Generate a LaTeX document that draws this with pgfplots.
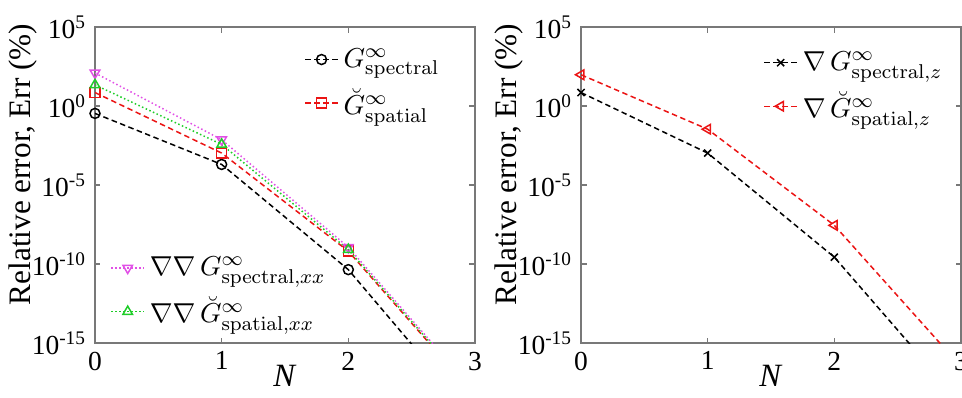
\documentclass[border=0pt]{standalone}
\usepackage[no-math]{fontspec}
\setmainfont{Liberation Serif}
\usepackage{pgfplots}
\pgfplotsset{compat=1.18}
\definecolor{mred}{RGB}{235,20,20}
\definecolor{mmag}{RGB}{225,80,230}
\definecolor{mgreen}{RGB}{30,205,40}
\definecolor{boxgray}{RGB}{120,120,120}
\begin{document}
\begin{tikzpicture}
% left panel, first legend
\begin{axis}[at={(0,0)}, anchor=south west,
    scale only axis, width=152pt, height=126.4pt, ymode=log,
    xmin=0, xmax=3, ymin=1e-15, ymax=1e5,
    xtick={0,1,2,3}, xticklabels={0,1,2,3},
    ytick={1e5,1,1e-5,1e-10,1e-15},
    yticklabels={10\textsuperscript{5},10\textsuperscript{0},10\textsuperscript{-5},10\textsuperscript{-10},10\textsuperscript{-15}},
    minor ytick={}, minor xtick={},
    tick align=inside, major tick length=2.2pt,
    every tick/.style={boxgray, line width=0.5pt},
    axis line style={boxgray, line width=0.6pt},
    xticklabel style={font=\fontsize{11}{13}\selectfont},
    yticklabel style={font=\fontsize{11}{13}\selectfont},
    xlabel={\textit{N}}, ylabel={Relative error, Err (\%)},
    xlabel style={font=\fontsize{13}{15}\selectfont, yshift=6.5pt, inner ysep=1pt},
    ylabel style={font=\fontsize{12.5}{14}\selectfont, at={(axis description cs:-0.19,0.565)}, anchor=center},
    legend cell align=left,
    legend style={draw=none, fill=none, font=\fontsize{11}{13}\selectfont, row sep=7pt, nodes={inner ysep=0pt}, at={(0.94,0.95)}, anchor=north east},
    legend image code/.code={\draw[mark repeat=2,mark phase=2] plot coordinates {(0cm,0cm) (0.23cm,0cm) (0.46cm,0cm)};}]
\addplot[black, dash pattern=on 2.2pt off 1.4pt, line width=0.6pt, mark=o, mark size=2pt, mark options={solid}] coordinates {(0,0.34) (1,2.0e-4) (2,4.4e-11) (3,1.6e-20)};
\addlegendentry{$G^{\infty}_{\mathrm{spectral}}$}
\addplot[mred, dash pattern=on 2.2pt off 1.4pt, line width=0.6pt, mark=square, mark size=2pt, mark options={solid}] coordinates {(0,7.1) (1,1.05e-3) (2,6.5e-10) (3,5e-19)};
\addlegendentry{$\breve{G}^{\infty}_{\mathrm{spatial}}$}
\end{axis}
% left panel, second legend
\begin{axis}[at={(0,0)}, anchor=south west, hide axis,
    scale only axis, width=152pt, height=126.4pt, ymode=log,
    xmin=0, xmax=3, ymin=1e-15, ymax=1e5,
    legend cell align=left,
    legend style={draw=none, fill=none, font=\fontsize{11}{13}\selectfont, row sep=7pt, nodes={inner ysep=0pt}, at={(0.02,0.035)}, anchor=south west},
    legend image code/.code={\draw[mark repeat=2,mark phase=2] plot coordinates {(0cm,0cm) (0.23cm,0cm) (0.46cm,0cm)};}]
\addplot[mmag, densely dotted, line width=0.6pt, mark=triangle, mark size=2.2pt, mark options={solid, rotate=180}] coordinates {(0,123) (1,7.4e-3) (2,1.15e-9) (3,7.9e-19)};
\addlegendentry{$\nabla\nabla\, G^{\infty}_{\mathrm{spectral},xx}$}
\addplot[mgreen, densely dotted, line width=0.6pt, mark=triangle, mark size=2.2pt, mark options={solid}] coordinates {(0,21.9) (1,3.7e-3) (2,8.1e-10) (3,6.3e-19)};
\addlegendentry{$\nabla\nabla\, \breve{G}^{\infty}_{\mathrm{spatial},xx}$}
\end{axis}
% right panel
\begin{axis}[at={(194.4pt,0)}, anchor=south west,
    scale only axis, width=152pt, height=126.4pt, ymode=log,
    xmin=0, xmax=3, ymin=1e-15, ymax=1e5,
    xtick={0,1,2,3}, xticklabels={0,1,2,3},
    ytick={1e5,1,1e-5,1e-10,1e-15},
    yticklabels={10\textsuperscript{5},10\textsuperscript{0},10\textsuperscript{-5},10\textsuperscript{-10},10\textsuperscript{-15}},
    minor ytick={}, minor xtick={},
    tick align=inside, major tick length=2.2pt,
    every tick/.style={boxgray, line width=0.5pt},
    axis line style={boxgray, line width=0.6pt},
    xticklabel style={font=\fontsize{11}{13}\selectfont},
    yticklabel style={font=\fontsize{11}{13}\selectfont},
    xlabel={\textit{N}}, ylabel={Relative error, Err (\%)},
    xlabel style={font=\fontsize{13}{15}\selectfont, yshift=6.5pt, inner ysep=1pt},
    ylabel style={font=\fontsize{12.5}{14}\selectfont, at={(axis description cs:-0.19,0.565)}, anchor=center},
    legend cell align=left,
    legend style={draw=none, fill=none, font=\fontsize{11}{13}\selectfont, row sep=7pt, nodes={inner ysep=0pt}, at={(0.985,0.94)}, anchor=north east},
    legend image code/.code={\draw[mark repeat=2,mark phase=2] plot coordinates {(0cm,0cm) (0.23cm,0cm) (0.46cm,0cm)};}]
\addplot[black, dash pattern=on 2.2pt off 1.4pt, line width=0.6pt, mark=x, mark size=2pt, mark options={solid}] coordinates {(0,7.1) (1,1.05e-3) (2,2.7e-10) (3,1.6e-19)};
\addlegendentry{$\nabla\, G^{\infty}_{\mathrm{spectral},z}$}
\addplot[mred, dash pattern=on 2.2pt off 1.4pt, line width=0.6pt, mark=triangle, mark size=2.2pt, mark options={solid, rotate=90}] coordinates {(0,95) (1,0.034) (2,2.8e-8) (3,3.2e-17)};
\addlegendentry{$\nabla\, \breve{G}^{\infty}_{\mathrm{spatial},z}$}
\end{axis}
\pgfresetboundingbox
\useasboundingbox (-38pt,-21.6pt) rectangle (346.8pt,137.2pt);
\end{tikzpicture}
\end{document}
